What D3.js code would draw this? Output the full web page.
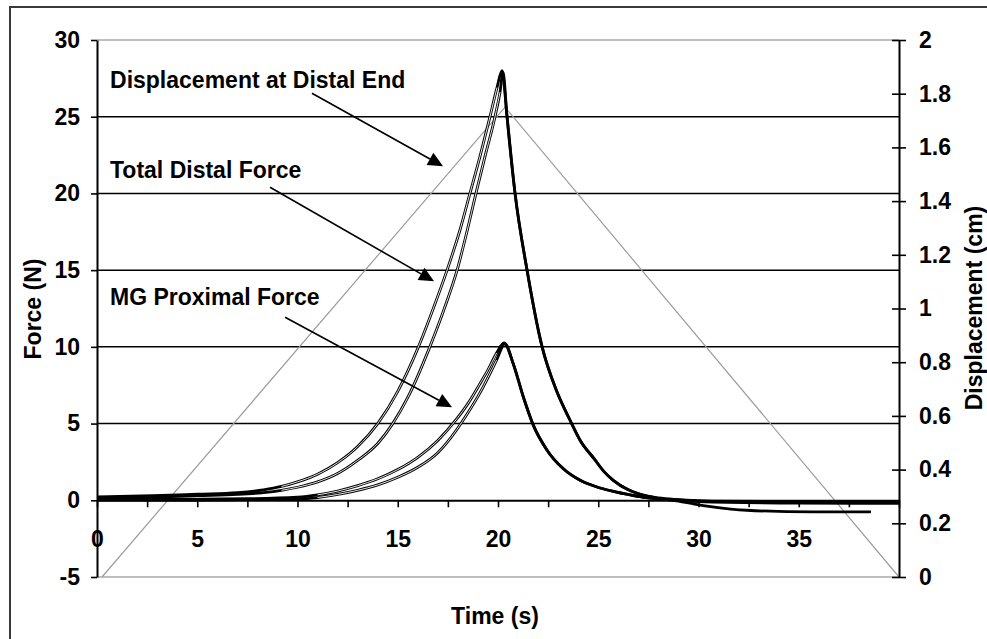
<!DOCTYPE html>
<html>
<head>
<meta charset="utf-8">
<script src="https://cdn.jsdelivr.net/npm/d3@7/dist/d3.min.js"></script>
<style>
    body { margin: 0; background: #fff; }
    text { font-family: "Liberation Sans", Arial, sans-serif; font-weight: bold; fill: #000; }
</style>
</head>
<body>
<svg id="chart" width="987" height="639"></svg>
<script>
// Force traces, [time (s), force (N)]
const distalA = [[0, 0.22], [2.8, 0.3], [5, 0.4], [7, 0.5], [8.3, 0.68], [9.2, 0.9], [10, 1.2], [11, 1.7],
    [12, 2.45], [13, 3.5], [14, 5], [15, 7.1], [16, 9.9], [16.8, 12.6], [17.46, 15], [18.1, 17.6],
    [18.6, 20], [19.1, 22.4], [19.6, 25], [19.95, 26.9], [20.2, 28], [20.45, 25], [20.85, 20], [21.45, 15],
    [22.2, 10], [22.9, 7.2], [23.6, 5.2], [24.1, 3.9], [24.8, 2.7], [25.3, 1.85], [25.75, 1.3], [26.5, 0.68],
    [27.1, 0.38], [28, 0.15], [29, 0.04], [30.7, -0.05], [34, -0.08], [40, -0.08]];
const distalB = [[0, 0.12], [2.8, 0.2], [5, 0.3], [7, 0.38], [8.3, 0.5], [9.2, 0.65], [10, 0.85], [11, 1.2],
    [12, 1.75], [13, 2.6], [14, 3.7], [14.7, 4.9], [15.5, 6.7], [16.6, 10], [17.35, 12.6],
    [17.96, 15], [18.45, 17.5], [18.9, 20], [19.35, 22.4], [19.85, 25], [20.1, 26.6], [20.25, 27.9], [20.45, 25],
    [20.85, 20], [21.45, 15], [22.2, 10], [22.9, 7.2], [23.6, 5.2], [24.1, 3.9], [24.8, 2.7], [25.3, 1.85],
    [25.75, 1.3], [26.5, 0.68], [27.1, 0.38], [28, 0.12], [29, -0.05], [29.8, -0.25], [30.7, -0.43],
    [32.4, -0.65], [35.7, -0.76], [38.6, -0.76]];
const mgA = [[0, 0.08], [5, 0.08], [7.5, 0.1], [10, 0.2], [11, 0.35], [12, 0.6], [13, 0.95], [14, 1.4],
    [15, 2], [16, 2.8], [17, 3.9], [17.94, 5.3], [18.5, 6.3], [19.1, 7.6], [19.5, 8.5],
    [19.93, 9.6], [20.3, 10.25], [20.76, 8.9], [21.26, 6.75], [21.76, 4.9], [22.43, 3.3], [23.26, 2.05],
    [24.1, 1.3], [24.9, 0.88], [25.75, 0.58], [26.6, 0.35], [27.4, 0.17], [28.5, 0.05], [30, -0.05], [35, -0.12],
    [40, -0.15]];
const mgB = [[0, 0.02], [5, 0.02], [7.5, 0.04], [10, 0.08], [11, 0.18], [12, 0.38], [13, 0.65], [14, 1],
    [15, 1.5], [16, 2.15], [17, 3.1], [17.94, 4.6], [18.5, 5.7], [19.1, 7], [19.5, 8],
    [19.93, 9.14], [20.35, 10.2], [20.76, 8.9], [21.26, 6.75], [21.76, 4.9], [22.43, 3.3], [23.26, 2.05],
    [24.1, 1.3], [24.9, 0.88], [25.75, 0.58], [26.6, 0.35], [27.4, 0.17], [28.5, 0.05], [30, -0.08], [35, -0.18],
    [40, -0.2]];

// Displacement ramp at the distal end (cm)
const dispTime = [0.25, 20.35, 40];
const dispValue = [0, 1.75, 0];

// Axis ticks
const timeTicks = [0, 2.5, 5, 7.5, 10, 12.5, 15, 17.5, 20, 22.5, 25, 27.5, 30, 32.5, 35, 37.5, 40];
const forceTicks = [-5, 0, 5, 10, 15, 20, 25, 30];
const dispTicks = [0, 0.2, 0.4, 0.6, 0.8, 1, 1.2, 1.4, 1.6, 1.8, 2];
const gridForces = [5, 10, 15, 20, 25];

// Callouts: label anchor and arrow, in (time, force) units
const labels = ['Displacement at Distal End', 'Total Distal Force', 'MG Proximal Force'];
const labelAt = [[0.65, 26.9], [0.65, 21.0], [0.65, 12.7]];
const arrowFrom = [[10.72, 26.53], [8.63, 20.4], [9.38, 11.93]];
const arrowTo = [[17.26, 21.77], [16.81, 14.27], [17.71, 6.06]];

const svg = d3.select('#chart');
const W = 987, H = 639;
const margin = {top: 40, right: 88, bottom: 62, left: 97};

const x = d3.scaleLinear().domain([0, 40]).range([margin.left, W - margin.right]);
const yForce = d3.scaleLinear().domain([-5, 30]).range([H - margin.bottom, margin.top]);
const yDisp = d3.scaleLinear().domain([0, 2]).range([H - margin.bottom, margin.top]);

// Chart border (runs off the right and bottom edge like the original crop)
svg.append('rect')
    .attr('x', 10).attr('y', 7)
    .attr('width', 990).attr('height', 650)
    .attr('fill', 'none')
    .attr('stroke', '#3a3a3a')
    .attr('stroke-width', 2);

// Plot area top / bottom edges in grey
svg.selectAll('line.frame')
    .data([30, -5])
    .join('line')
    .attr('class', 'frame')
    .attr('x1', x(0)).attr('x2', x(40))
    .attr('y1', d => yForce(d)).attr('y2', d => yForce(d))
    .attr('stroke', '#a8a8a8')
    .attr('stroke-width', 1.5);

// Horizontal gridlines
svg.selectAll('line.grid')
    .data(gridForces)
    .join('line')
    .attr('class', 'grid')
    .attr('x1', x(0)).attr('x2', x(40))
    .attr('y1', d => yForce(d)).attr('y2', d => yForce(d))
    .attr('stroke', '#000')
    .attr('stroke-width', 1.5);

// Displacement ramp
const dispLine = d3.line()
    .x((d, i) => x(dispTime[i]))
    .y(d => yDisp(d));
svg.append('path')
    .attr('d', dispLine(dispValue))
    .attr('fill', 'none')
    .attr('stroke', '#9c9c9c')
    .attr('stroke-width', 1.2);

// Force traces: solid black, hollow while the force is building up
const forceLine = d3.line()
    .x(d => x(d[0]))
    .y(d => yForce(d[1]))
    .curve(d3.curveMonotoneX);

[[distalA, 9], [distalB, 9], [mgA, 11], [mgB, 11]].forEach(([series, hollowFrom]) => {
    svg.append('path')
        .attr('d', forceLine(series))
        .attr('fill', 'none')
        .attr('stroke', '#000')
        .attr('stroke-width', 2.8);

    const peak = d3.maxIndex(series, d => d[1]);
    const rising = series.filter((d, i) => i < peak && d[0] >= hollowFrom);
    svg.append('path')
        .attr('d', forceLine(rising))
        .attr('fill', 'none')
        .attr('stroke', '#fff')
        .attr('stroke-width', 0.9);
});

// Left axis (force)
const leftAxis = svg.append('g')
    .attr('transform', `translate(${margin.left}, 0)`)
    .call(d3.axisLeft(yForce).tickValues(forceTicks).tickFormat(d => String(d))
        .tickSize(6).tickSizeOuter(0).tickPadding(11));

// Right axis (displacement), ticks cross the axis line
const rightAxis = svg.append('g')
    .attr('transform', `translate(${W - margin.right}, 0)`)
    .call(d3.axisRight(yDisp).tickValues(dispTicks).tickFormat(d => String(d))
        .tickSize(7).tickSizeOuter(0).tickPadding(13));
rightAxis.selectAll('.tick line').attr('x1', -7);

// Time axis sits on the zero force line
const timeAxis = svg.append('g')
    .attr('transform', `translate(0, ${yForce(0)})`)
    .call(d3.axisBottom(x).tickValues(timeTicks).tickSize(7).tickSizeOuter(0).tickPadding(23)
        .tickFormat(d => (d % 5 === 0 && d < 40) ? String(d) : ''));

[leftAxis, rightAxis, timeAxis].forEach(g => {
    g.select('.domain').attr('stroke', '#000').attr('stroke-width', 2);
    g.selectAll('.tick line').attr('stroke', '#000').attr('stroke-width', 1.6);
    g.selectAll('.tick text')
        .attr('fill', '#000')
        .style('font-family', '"Liberation Sans", Arial, sans-serif')
        .style('font-weight', 'bold')
        .style('font-size', '23px');
});

// Axis titles
svg.append('text')
    .attr('x', (x(0) + x(40)) / 2 - 3)
    .attr('y', 624)
    .attr('text-anchor', 'middle')
    .style('font-size', '23px')
    .text('Time (s)');

svg.append('text')
    .attr('transform', 'translate(41, 309) rotate(-90)')
    .attr('text-anchor', 'middle')
    .style('font-size', '23px')
    .text('Force (N)');

svg.append('text')
    .attr('transform', 'translate(982, 308) rotate(-90)')
    .attr('text-anchor', 'middle')
    .style('font-size', '23px')
    .text('Displacement (cm)');

// Callout labels and arrows
labels.forEach((label, i) => {
    svg.append('text')
        .attr('x', x(labelAt[i][0]))
        .attr('y', yForce(labelAt[i][1]))
        .style('font-size', '23px')
        .text(label);

    const x0 = x(arrowFrom[i][0]), y0 = yForce(arrowFrom[i][1]);
    const x1 = x(arrowTo[i][0]), y1 = yForce(arrowTo[i][1]);
    const angle = Math.atan2(y1 - y0, x1 - x0);
    const headLen = 15, headHalf = 7;
    const bx = x1 - headLen * Math.cos(angle), by = y1 - headLen * Math.sin(angle);

    svg.append('line')
        .attr('x1', x0).attr('y1', y0)
        .attr('x2', bx).attr('y2', by)
        .attr('stroke', '#000')
        .attr('stroke-width', 1.6);

    svg.append('polygon')
        .attr('points', [
            [x1, y1],
            [bx + headHalf * Math.sin(angle), by - headHalf * Math.cos(angle)],
            [bx - headHalf * Math.sin(angle), by + headHalf * Math.cos(angle)]
        ].map(p => p.join(',')).join(' '))
        .attr('fill', '#000');
});
</script>
</body>
</html>
